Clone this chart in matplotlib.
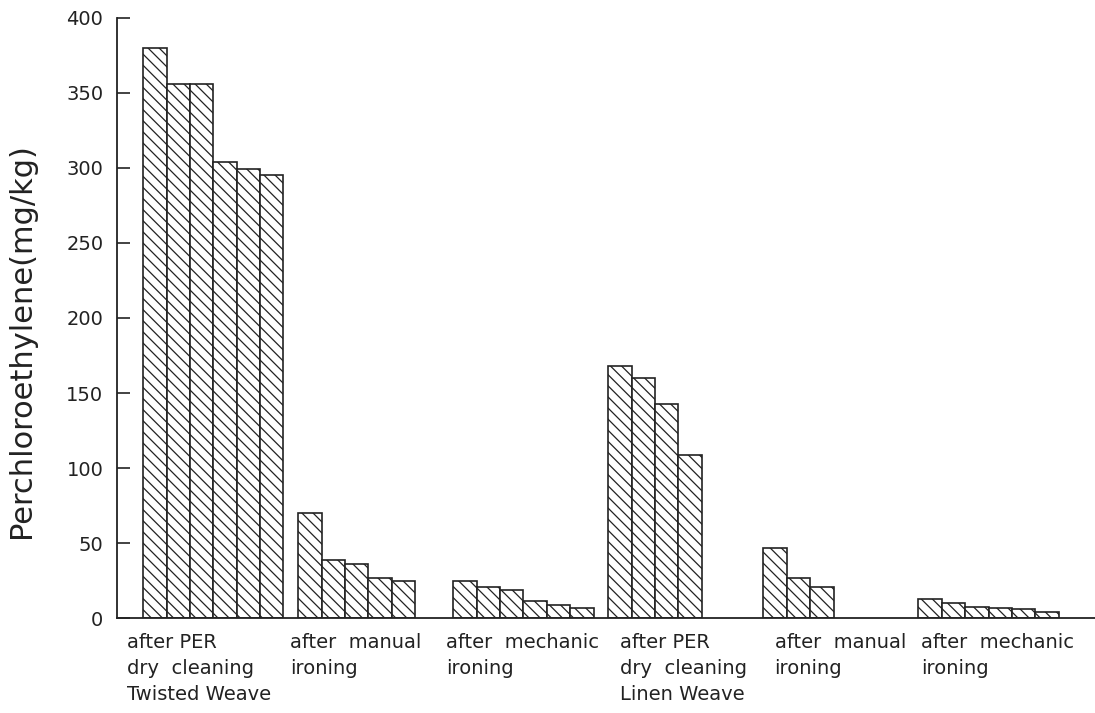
import numpy as np
import matplotlib.pyplot as plt

# values (mg/kg)
twisted_dry = [380, 356, 356, 304, 299, 295]
twisted_manual = [70, 39, 36, 27, 24.5]
twisted_mechanic = [24.5, 21, 18.5, 11.5, 8.5, 6.5]
linen_dry = [168, 160, 143, 109]
linen_manual = [47, 26.5, 20.5]
linen_mechanic = [13, 10, 7.5, 6.5, 6, 4]

groups = [twisted_dry, twisted_manual, twisted_mechanic,
          linen_dry, linen_manual, linen_mechanic]
labels = ['after PER\ndry  cleaning\nTwisted Weave',
          'after  manual\nironing',
          'after  mechanic\nironing',
          'after PER\ndry  cleaning\nLinen Weave',
          'after  manual\nironing',
          'after  mechanic\nironing']

group_step = 6.63
label_x = [-0.68, 6.28, 12.95, 20.38, 27.0, 33.25]

plt.rcParams['hatch.linewidth'] = 0.9
plt.rcParams['hatch.color'] = '#222222'

fig = plt.figure(figsize=(10.95, 7.13), dpi=100)
ax = fig.add_axes([0.107, 0.133, 0.893, 0.842])

for g, vals in enumerate(groups):
    x = g * group_step + np.arange(len(vals)) + 0.5
    ax.bar(x, vals, width=1.0, facecolor='white', edgecolor='#222222',
           linewidth=1.2, hatch='\\\\\\')

ax.set_xlim(-1.11, 40.7)
ax.set_ylim(0, 400)
ax.set_yticks(np.arange(0, 401, 50))
ax.set_xticks([])
ax.tick_params(axis='y', direction='in', length=9, width=1.2, pad=10,
               labelsize=14, colors='#222222')
for s in ['top', 'right']:
    ax.spines[s].set_visible(False)
for s in ['left', 'bottom']:
    ax.spines[s].set_linewidth(1.3)
    ax.spines[s].set_color('#222222')

for lx, lab in zip(label_x, labels):
    ax.text(lx, -0.025, lab, transform=ax.get_xaxis_transform(),
            ha='left', va='top', fontsize=14, linespacing=1.45,
            color='#222222')

ax.set_ylabel('Perchloroethylene(mg/kg)', fontsize=22, color='#222222')
ax.yaxis.set_label_coords(-0.083, 0.463)

fig.savefig('out.png', dpi=100)
